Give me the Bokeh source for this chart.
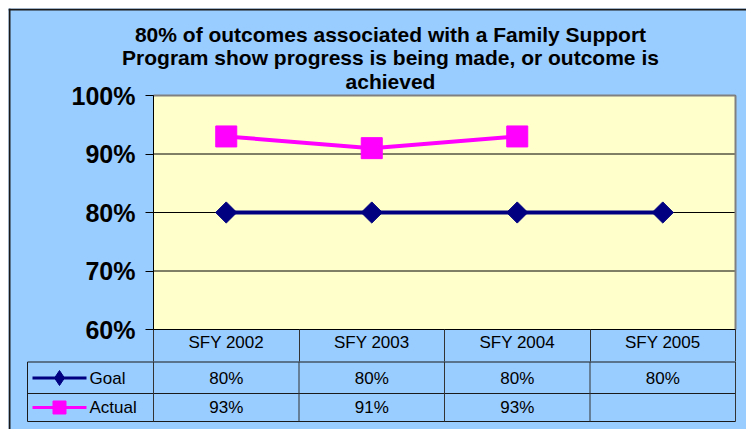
from bokeh.plotting import figure
from bokeh.models import Range1d, FixedTicker, PrintfTickFormatter, ColumnDataSource
from bokeh.embed import file_html
from bokeh.resources import INLINE
from bokeh.core.properties import value

# ---------------- data ----------------
categories = ["SFY 2002", "SFY 2003", "SFY 2004", "SFY 2005"]
goal = [80, 80, 80, 80]
actual = [93, 91, 93]
y_ticks = [60, 70, 80, 90, 100]
series_names = ["Goal", "Actual"]
title_lines = [
    "80% of outcomes associated with a Family Support",
    "Program show progress is being made, or outcome is",
    "achieved",
]

# ---------------- styles / layout ----------------
BLUE = "#99CCFF"
YELLOW = "#FFFFCC"
NAVY = "#000080"
MAGENTA = "#FF00FF"
DARK = "#1a1a1a"
FONT = "Liberation Sans"

n = len(categories)
ymin, ymax = y_ticks[0], y_ticks[-1]
# pixel geometry of the plot area (used only to place decorations)
PX_L, PX_R, PX_T, PX_B = 153, 735, 95, 329
PXX = (PX_R - PX_L) / n
PXY = (PX_B - PX_T) / (ymax - ymin)


def dx(px):
    return (px - PX_L) / PXX


def dy(py):
    return ymin + (PX_B - py) / PXY


x_goal = [i + 0.5 for i in range(len(goal))]
x_actual = [i + 0.5 for i in range(len(actual))]

W, H = 746, 429
M = 8
p = figure(width=W, height=H,
           x_range=Range1d(dx(M), dx(W)), y_range=Range1d(dy(H), dy(M)),
           output_backend="svg", toolbar_location=None,
           min_border_left=M, min_border_top=M, min_border_right=0, min_border_bottom=0)
p.background_fill_color = BLUE
p.border_fill_color = "white"
p.outline_line_color = None
p.xgrid.visible = False
p.ygrid.visible = False

# chart-area border (left and top)
p.segment(x0=[dx(9), dx(M)], y0=[dy(M), dy(9)], x1=[dx(9), dx(W)], y1=[dy(H), dy(9)],
          line_color=DARK, line_width=2)

# plot area
p.quad(left=[0], right=[n], bottom=[ymin], top=[ymax], fill_color=YELLOW, line_color=None)
p.segment(x0=[0] * len(y_ticks), y0=y_ticks, x1=[n] * len(y_ticks), y1=y_ticks,
          line_color="black", line_width=1)
p.segment(x0=[0, n], y0=[ymax, ymax], x1=[n, n], y1=[ymax, ymin], line_color="#808080", line_width=2)

# y axis placed at the left edge of the plot area
ya = p.yaxis[0]
ya.fixed_location = 0
ya.bounds = (ymin, ymax)
ya.ticker = FixedTicker(ticks=y_ticks, minor_ticks=[])
ya.formatter = PrintfTickFormatter(format="%d%%")
ya.major_label_text_font = FONT
ya.major_label_text_font_style = "bold"
ya.major_label_text_font_size = "25px"
ya.major_label_text_color = "black"
ya.major_tick_out = 8
ya.major_tick_in = 0
ya.minor_tick_line_color = None
ya.major_label_standoff = 10
ya.axis_line_color = "black"
ya.major_tick_line_color = "black"

# category axis at the bottom of the plot area (header row of the data table)
xa = p.xaxis[0]
xa.fixed_location = ymin
xa.bounds = (0, n)
xa.ticker = FixedTicker(ticks=[i + 0.5 for i in range(n)], minor_ticks=list(range(n + 1)))
xa.major_label_overrides = {i + 0.5: c for i, c in enumerate(categories)}
xa.major_label_text_font = FONT
xa.major_label_text_font_size = "17px"
xa.major_label_text_color = "black"
xa.major_tick_out = 0
xa.major_tick_in = 0
xa.major_tick_line_color = None
xa.minor_tick_out = 32
xa.minor_tick_in = 0
xa.minor_tick_line_color = "#333333"
xa.minor_tick_line_width = 1
xa.major_label_standoff = -29
xa.axis_line_color = "black"

# series
p.line(x_goal, goal, line_color=NAVY, line_width=4)
p.scatter(x_goal, goal, marker="square", angle=0.785398, size=15, fill_color=NAVY, line_color=NAVY)
p.line(x_actual, actual, line_color=MAGENTA, line_width=4)
p.scatter(x_actual, actual, marker="square", size=21, fill_color=MAGENTA, line_color=MAGENTA)

# title
p.text(x=[dx(390)] * 3, y=[dy(33.5), dy(57), dy(80.5)], text=title_lines,
       text_font=value(FONT), text_font_style="bold", text_font_size="21px",
       text_align="center", text_baseline="middle", text_color="black")

# ---------------- data table ----------------
t_left, t_top, t_mid, t_bot = dx(27), dy(361.5), dy(393), dy(421)
p.segment(x0=[t_left, t_left, t_left, t_left], y0=[t_top, t_mid, t_bot, t_bot],
          x1=[n, n, n, t_left], y1=[t_top, t_mid, t_bot, t_top], line_color=DARK, line_width=1)
p.segment(x0=list(range(n + 1)), y0=[t_bot] * (n + 1), x1=list(range(n + 1)), y1=[t_top] * (n + 1),
          line_color="#333333", line_width=1)

row_y = [dy(377.5), dy(407)]
icon_x0, icon_x1, icon_xm = dx(32), dx(86), dx(59)
p.segment(x0=[icon_x0], y0=[row_y[0]], x1=[icon_x1], y1=[row_y[0]], line_color=NAVY, line_width=3)
p.scatter([icon_xm], [row_y[0]], marker="diamond", size=15, fill_color=NAVY, line_color=NAVY)
p.segment(x0=[icon_x0], y0=[row_y[1]], x1=[icon_x1], y1=[row_y[1]], line_color=MAGENTA, line_width=3)
p.scatter([icon_xm], [row_y[1]], marker="square", size=13, fill_color=MAGENTA, line_color=MAGENTA)

p.text(x=[dx(89)] * 2, y=row_y, text=series_names, text_font=value(FONT), text_font_size="17px",
       text_align="left", text_baseline="middle", text_color="black")

tsrc = ColumnDataSource(dict(
    x=x_goal + x_actual,
    y=[row_y[0]] * len(goal) + [row_y[1]] * len(actual),
    t=[f"{v}%" for v in goal] + [f"{v}%" for v in actual],
))
p.text(x="x", y="y", text="t", source=tsrc, text_font=value(FONT), text_font_size="17px",
       text_align="center", text_baseline="middle", text_color="black")

open("out.html", "w").write(file_html(p, INLINE))
